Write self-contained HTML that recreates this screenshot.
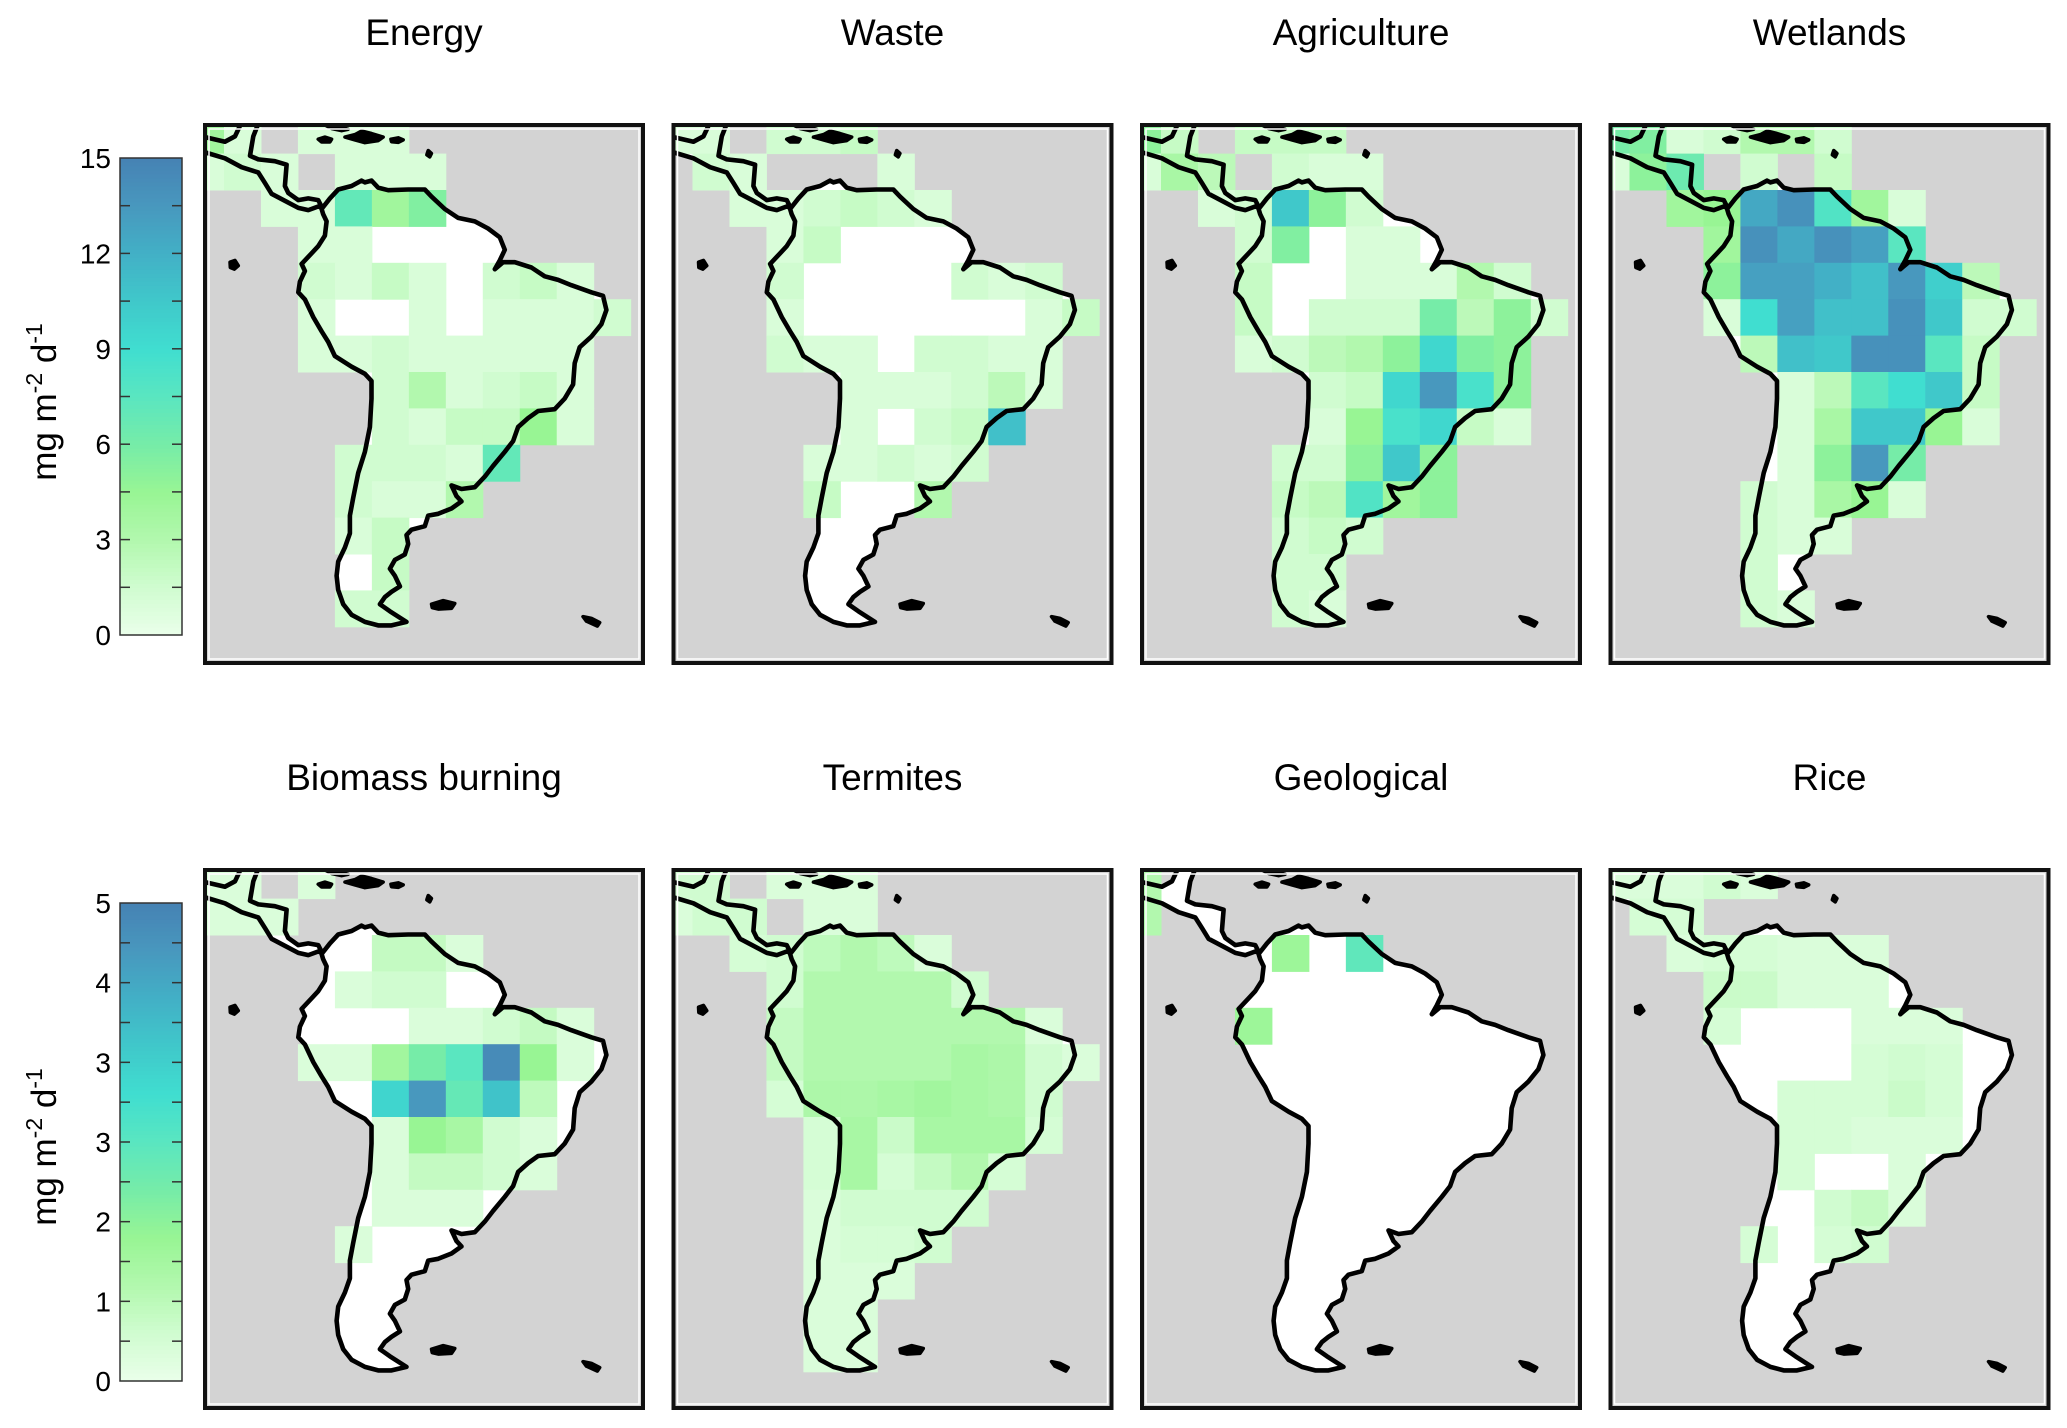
<!DOCTYPE html>
<html><head><meta charset="utf-8"><style>
html,body{margin:0;padding:0;background:#fff}
svg{display:block;font-family:"Liberation Sans",Arial,sans-serif}
</style></head><body>
<svg id="fig" width="2067" height="1428" viewBox="0 0 2067 1428" xmlns="http://www.w3.org/2000/svg">
<defs></defs>
</svg>
<script>
var n = null;
// ---- panel titles & scales ----
var panelTitles = ["Energy","Waste","Agriculture","Wetlands","Biomass burning","Termites","Geological","Rice"];
var topScaleMax = 15, bottomScaleMax = 5;
var topTickLabels = ["15","12","9","6","3","0"];
var bottomTickLabels = ["5","4","3","3","2","1","0"];

// ---- gridded values (rows north->south, columns west->east) ----
var energyGrid = [
 [4,1,n,1,1,1],
 [1,1.5,1,n,1,1,1],
 [n,n,1,1,7,4,5.5],
 [n,n,n,1,1,0,0,0],
 [n,n,n,1.5,1,2,1,0,1.5,2,1],
 [n,n,n,1,0,0,1,0,1,1,1,1.5],
 [n,n,n,1,1,1.5,1,1,1,1,1],
 [n,n,n,n,n,1.5,3,1,1.5,2,1],
 [n,n,n,n,n,1.5,1,2,2,4.5,1],
 [n,n,n,n,1.5,1.5,1.5,1,7],
 [n,n,n,n,1.5,1,1,3],
 [n,n,n,n,1,2,0],
 [n,n,n,n,0,2],
 [n,n,n,n,1.5,1.5]
];
var wasteGrid = [
 [1,1,n,1.5,1.5,2],
 [n,1.5,1,n,n,n,1],
 [n,n,1,1,1.5,2,1.5,1],
 [n,n,n,1,2,0,0,0],
 [n,n,n,1.5,0,0,0,0,1.5,1,1.5],
 [n,n,n,1,0,0,0,0,0,0,1,2],
 [n,n,n,1.5,1,1,0,1.5,1.5,1,1],
 [n,n,n,n,n,1,1,1,1.5,2.5,1],
 [n,n,n,n,n,1,0,1.5,2,11],
 [n,n,n,n,1,1,1.5,1,1.5],
 [n,n,n,n,2,0,0,3]
];
var agricultureGrid = [
 [5,2,n,2,2,2],
 [1,3.5,2.5,n,1.5,1,1],
 [n,n,1,1.5,10.5,5,1.5,0],
 [n,n,n,1.5,5.5,0,1,1,0],
 [n,n,n,2,0,0,1,1,1,3,1.5],
 [n,n,n,2,0,1.5,1.5,1.5,6,2.5,5,1.5],
 [n,n,n,1,1.5,2.5,3,5,9.5,5.5,5],
 [n,n,n,n,n,1.5,2,9.5,13.5,8.5,5],
 [n,n,n,n,n,1,4.5,8.5,9.5,2,1],
 [n,n,n,n,1.5,1.5,5,10.5,5],
 [n,n,n,n,2,2.5,8,4,5],
 [n,n,n,n,1.5,2,1.5],
 [n,n,n,n,1.5,1.5],
 [n,n,n,n,1.5,1]
];
var wetlandsGrid = [
 [6,5.5,1,1.5,3,3,1.5],
 [1,5,6.5,n,1.5,n,2],
 [n,n,4,4.5,12.5,14,8,4,1],
 [n,n,n,4,14,12.5,14,13,7.5],
 [n,n,n,5,13,13,12,11,13.5,10,2.5],
 [n,n,n,1,9,13,11,11,14,10.5,1.5,1.5],
 [n,n,n,n,2.5,11,10.5,14,14,7.5,2],
 [n,n,n,n,n,1,2.5,7.5,9,10.5,2],
 [n,n,n,n,n,1,3.5,10.5,10.5,4.5,1],
 [n,n,n,n,n,1,5,13.5,6],
 [n,n,n,n,1.5,1,3.5,4.5,1],
 [n,n,n,n,1.5,1,1],
 [n,n,n,n,1.5,0],
 [n,n,n,n,1.5,1]
];
var biomassGrid = [
 [0.3,0.3,n,0.3],
 [0.3,0.3,0.3],
 [n,n,n,n,0,0.7,0.7,0.3],
 [n,n,n,n,0.3,0.5,0.5],
 [n,n,n,n,n,0,0.3,0.3,0.5,0.7,0.3],
 [n,n,n,0.3,0.3,1.3,2.0,2.5,4.8,1.5,0.3],
 [n,n,n,n,n,3.2,4.5,2.3,3.6,0.8],
 [n,n,n,n,n,0.3,1.5,1.2,0.5,0.3],
 [n,n,n,n,n,0.3,0.7,0.7,0.5,0.3],
 [n,n,n,n,n,0.3,0.3,0.3],
 [n,n,n,n,0.3]
];
var termitesGrid = [
 [0.5,0.5,n,0.3,0.3,0.3],
 [0.3,0.5,0.5,n,0.3,0.3],
 [n,n,0.4,0.5,0.8,1.0,0.8,0.3],
 [n,n,n,0.5,1.0,1.0,1.0,1.0,0.5],
 [n,n,n,0.7,1.0,1.0,1.0,1.0,1.0,1.0,0.3],
 [n,n,n,0.7,1.0,1.0,1.0,1.0,1.2,1.1,0.5,0.3],
 [n,n,n,0.4,1.1,1.1,1.2,1.3,1.2,1.1,0.5],
 [n,n,n,n,0.4,1.2,0.6,1.2,1.2,1.2,0.4],
 [n,n,n,n,0.4,1.2,0.4,0.7,1.0,0.4],
 [n,n,n,n,0.3,0.5,0.5,0.5,0.5],
 [n,n,n,n,0.3,0.4,0.4,0.5],
 [n,n,n,n,0.3,0.3,0.3],
 [n,n,n,n,0.3,0.3],
 [n,n,n,n,0.3,0.3]
];
var geologicalGrid = [
 [1.0],
 [1.0],
 [n,n,n,n,1.4,n,2.4],
 [],
 [n,n,n,1.4]
];
var riceGrid = [
 [0.3,0.3,0.3,0.5,0.3],
 [n,0.4,0.4],
 [n,n,0.3,0.4,0.4,0.3,0.3,0.3],
 [n,n,n,0.6,0.6,0.3,0.3,0.3,0],
 [n,n,n,0.4,0,0,0,0.3,0.3,0.3],
 [n,n,n,n,0,0,0,0.4,0.5,0.4],
 [n,n,n,n,n,0.4,0.4,0.4,0.6,0.4],
 [n,n,n,n,n,0.4,0.4,0.3,0.3,0.3],
 [n,n,n,n,n,0.4,0,0,0.3],
 [n,n,n,n,n,n,0.5,0.7,0.3],
 [n,n,n,n,0.4,n,0.4,0.5]
];
var allGrids = [energyGrid,wasteGrid,agricultureGrid,wetlandsGrid,biomassGrid,termitesGrid,geologicalGrid,riceGrid];

// ---- layout ----
var NS="http://www.w3.org/2000/svg";
var svg=document.getElementById('fig');
var PW=438, PH=538;
var panelLeft=[205,673.5,1142,1610.5], panelTop=[125,870];
var gx0=19, gdx=36.97, gy0=28.6, gdy=36.4;
function colX(c){return c===0?0:gx0+(c-1)*gdx;}
function colW(c){return c===0?gx0:gdx;}
function rowY(r){return r===0?0:gy0+(r-1)*gdy;}
function rowH(r){return r===0?gy0:gdy;}

var stops=[[0,[234,255,234]],[0.1,[208,252,208]],[0.2,[178,248,174]],[0.3,[152,245,148]],[0.4,[118,236,168]],[0.5,[90,230,192]],[0.6,[64,222,208]],[0.7,[64,200,202]],[0.8,[66,176,198]],[0.9,[72,152,190]],[1,[70,130,180]]];
function cmap(f){f=Math.max(0,Math.min(1,f));for(var i=1;i<stops.length;i++){if(f<=stops[i][0]){var a=stops[i-1],b=stops[i],t=(f-a[0])/(b[0]-a[0]);return 'rgb('+[0,1,2].map(function(k){return Math.round(a[1][k]+(b[1][k]-a[1][k])*t);}).join(',')+')';}}return 'rgb(70,130,180)';}

function el(tag,attrs,parent){var e=document.createElementNS(NS,tag);for(var k in attrs)e.setAttribute(k,attrs[k]);(parent||svg).appendChild(e);return e;}

// coastline in reference-normalized coordinates
function TX(zx){return (zx-20)/1315*PW;}
function TY(zy){return (zy-28)/1518*PH;}
var saCoast=[[370,265],[395,235],[420,210],[460,200],[490,185],[500,190],[520,185],[540,205],[570,212],[630,210],[680,210],[700,230],[740,265],[780,290],[830,300],[870,320],[905,345],[920,380],[905,410],[890,435],[915,415],[950,415],[1000,430],[1040,455],[1080,465],[1120,480],[1180,500],[1215,510],[1225,550],[1210,590],[1180,625],[1145,655],[1130,700],[1125,760],[1100,800],[1070,830],[1020,835],[990,855],[960,880],[945,920],[920,950],[885,990],[860,1020],[830,1050],[790,1055],[760,1045],[775,1075],[790,1090],[760,1110],[720,1125],[690,1130],[680,1160],[640,1170],[625,1185],[630,1210],[620,1240],[590,1255],[575,1280],[590,1300],[605,1330],[580,1345],[560,1360],[545,1380],[575,1400],[625,1430],[580,1440],[540,1440],[500,1430],[460,1410],[435,1380],[420,1340],[415,1300],[420,1260],[440,1220],[455,1180],[455,1130],[465,1080],[480,1010],[500,950],[515,880],[520,800],[520,750],[500,730],[460,710],[410,680],[390,640],[370,610],[345,570],[320,520],[300,500],[305,470],[320,440],[310,420],[340,390],[360,370],[380,340],[385,300],[375,280]];
var caCoast=[[20,62],[80,75],[110,60],[128,24],[180,24],[165,60],[155,115],[180,125],[230,130],[265,140],[260,200],[270,220],[300,240],[330,235],[360,240],[372,262],[360,258],[330,268],[300,262],[260,242],[220,222],[200,192],[180,162],[130,147],[80,122],[16,104],[16,62]];
var islands=[[[360,68],[380,62],[400,68],[395,76],[370,76]],[[380,28],[420,32],[450,40],[430,44],[400,38]],[[440,62],[470,55],[490,45],[520,52],[555,62],[540,72],[500,78],[470,70]],[[578,68],[600,64],[615,70],[600,77],[580,75]],[[690,100],[700,108],[695,118],[686,112]],[[95,415],[110,410],[120,425],[108,435],[96,430]],[[700,1380],[735,1370],[770,1378],[760,1392],[720,1394],[702,1390]],[[1155,1415],[1180,1420],[1205,1432],[1198,1442],[1165,1428]]];
function ptsPath(pts){return 'M'+pts.map(function(p){return TX(p[0]).toFixed(1)+','+TY(p[1]).toFixed(1);}).join('L')+'Z';}

for(var p=0;p<8;p++){
  var row=Math.floor(p/4), col=p%4;
  var L=panelLeft[col], T=panelTop[row], maxV=row===0?topScaleMax:bottomScaleMax;
  var g=el('g',{transform:'translate('+L+','+T+')'});
  
  
  var cp=el('clipPath',{id:'clip'+p},g);
  el('rect',{x:0,y:0,width:PW,height:PH},cp);
  var inner=el('g',{'clip-path':'url(#clip'+p+')'},g);
  var bg=el('rect',{x:0,y:0,width:PW,height:PH,fill:'#d3d3d3'},inner);
  
  
  var land=el('path',{d:ptsPath(saCoast)+ptsPath(caCoast),fill:'#fff'},inner);
  
  
  var grid=allGrids[p];
  for(var r=0;r<grid.length;r++){
    for(var c=0;c<grid[r].length;c++){
      var v=grid[r][c];
      if(v===null||v<=0)continue;
      var cell=el('rect',{x:colX(c),y:rowY(r),width:colW(c)+0.5,height:rowH(r)+0.5,fill:cmap(v/maxV)},inner);
      
      
    }
  }
  var coast=el('path',{d:ptsPath(saCoast)+ptsPath(caCoast),fill:'none',stroke:'#000','stroke-width':4.6,'stroke-linejoin':'round'},inner);
  
  
  for(var i=0;i<islands.length;i++){
    var isl=el('path',{d:ptsPath(islands[i]),fill:'#000',stroke:'#000','stroke-width':3.5,'stroke-linejoin':'round'},inner);
    
    
  }
  el('rect',{x:4,y:4,width:PW-8,height:PH-8,fill:'none',stroke:'#fff','stroke-width':1.5},g);
  var fr=el('rect',{x:0,y:0,width:PW,height:PH,fill:'none',stroke:'#111','stroke-width':4},g);
  
  
  var t=el('text',{x:L+PW/2,y:row===0?45:790,'text-anchor':'middle','font-size':37,fill:'#000'});
  t.textContent=panelTitles[p];
  
  
}

// ---- colorbars ----
function colorbar(top,bottom,labels,nMinor,titleY,name){
  var x=120,w=62,h=bottom-top;
  var g=el('g',{});
  
  
  var steps=120;
  for(var i=0;i<steps;i++){
    el('rect',{x:x,y:top+h*(1-(i+1)/steps),width:w,height:h/steps+0.6,fill:cmap((i+0.5)/steps)},g);
  }
  el('rect',{x:x,y:top,width:w,height:h,fill:'none',stroke:'#333','stroke-width':1.5},g);
  for(var k=1;k<nMinor;k++){
    var yy=top+h*k/nMinor;
    el('line',{x1:x,x2:x+10,y1:yy,y2:yy,stroke:'#333','stroke-width':1.5},g);
    el('line',{x1:x+w-10,x2:x+w,y1:yy,y2:yy,stroke:'#333','stroke-width':1.5},g);
  }
  for(var j=0;j<labels.length;j++){
    var ly=top+h*j/(labels.length-1);
    var tx=el('text',{x:111,y:ly+10,'text-anchor':'end','font-size':28,fill:'#000'},g);
    tx.textContent=labels[j];
    
    
  }
  var tt=el('text',{transform:'translate(56,'+titleY+') rotate(-90)','text-anchor':'middle','font-size':35,fill:'#000'},g);
  tt.innerHTML='mg m<tspan dy="-14" font-size="23">-2</tspan><tspan dy="14"> d</tspan><tspan dy="-14" font-size="23">-1</tspan>';
  
  
}
colorbar(158,635,topTickLabels,10,402,'colorbar-top');
colorbar(903,1381,bottomTickLabels,12,1147,'colorbar-bottom');
</script>
</body></html>
